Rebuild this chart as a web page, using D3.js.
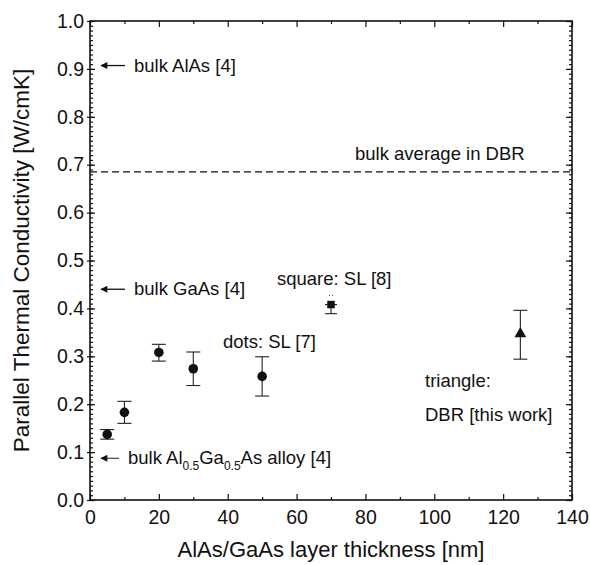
<!DOCTYPE html>
<html lang="en">
<head>
    <meta charset="UTF-8">
    <title>Parallel thermal conductivity</title>
    <style>
        body { margin: 0; background: #fff; }
        text { font-family: 'Liberation Sans', Arial, Helvetica, sans-serif; fill: #111; }
    </style>
</head>
<body>
    <svg id="svg" width="590" height="565"></svg>

    <script src="https://d3js.org/d3.v7.min.js"></script>
    <script>
        // data
        const dotThickness = [5, 10, 20, 30, 50]
        const dotValue = [0.137, 0.183, 0.308, 0.274, 0.258]
        const dotLow = [0.127, 0.160, 0.290, 0.239, 0.217]
        const dotHigh = [0.147, 0.206, 0.325, 0.309, 0.299]

        const squareThickness = [70]
        const squareValue = [0.408]
        const squareLow = [0.389]
        const squareHigh = [0.427]

        const triangleThickness = [125]
        const triangleValue = [0.347]
        const triangleLow = [0.294]
        const triangleHigh = [0.396]

        const dbrAverage = 0.685
        const bulkLabels = ['bulk AlAs [4]', 'bulk GaAs [4]', 'alloy']
        const bulkValues = [0.907, 0.440, 0.087]

        const xTicks = [0, 20, 40, 60, 80, 100, 120, 140]
        const xMinorTicks = [10, 30, 50, 70, 90, 110, 130]
        const yTicks = [0.0, 0.1, 0.2, 0.3, 0.4, 0.5, 0.6, 0.7, 0.8, 0.9, 1.0]

        // scales
        const m = { left: 90, right: 572, top: 21, bottom: 500 }
        const x = d3.scaleLinear().domain([0, 140]).range([m.left, m.right])
        const y = d3.scaleLinear().domain([0, 1]).range([m.bottom, m.top])
        const yMinor = d3.range(0, 101).map(d => d / 100)

        const svg = d3.select('#svg')

        // axes
        const fmtY = d3.format('.1f')
        svg.append('g')
            .attr('transform', `translate(0,${m.bottom})`)
            .call(d3.axisBottom(x).tickValues(xTicks).tickSizeInner(-6).tickSizeOuter(0).tickPadding(10))
            .call(g => g.selectAll('text').style('font-size', '19.5px'))
        svg.append('g')
            .attr('transform', `translate(0,${m.bottom})`)
            .call(d3.axisBottom(x).tickValues(xMinorTicks).tickSizeInner(-3).tickSizeOuter(0).tickFormat(''))
        svg.append('g')
            .attr('transform', `translate(0,${m.top})`)
            .call(d3.axisTop(x).tickValues(xTicks).tickSizeInner(-6).tickSizeOuter(0).tickFormat(''))
        svg.append('g')
            .attr('transform', `translate(0,${m.top})`)
            .call(d3.axisTop(x).tickValues(xMinorTicks).tickSizeInner(-3).tickSizeOuter(0).tickFormat(''))

        svg.append('g')
            .attr('transform', `translate(${m.left},0)`)
            .call(d3.axisLeft(y).tickValues(yTicks).tickSizeInner(3).tickSizeOuter(0).tickPadding(3).tickFormat(fmtY))
            .call(g => g.selectAll('text').style('font-size', '19.5px'))
        svg.append('g')
            .attr('transform', `translate(${m.left},0)`)
            .call(d3.axisLeft(y).tickValues(yTicks).tickSizeInner(-5).tickSizeOuter(0).tickFormat(''))
        svg.append('g')
            .attr('transform', `translate(${m.left},0)`)
            .call(d3.axisLeft(y).tickValues(yMinor).tickSizeInner(-3).tickSizeOuter(0).tickFormat(''))
        svg.append('g')
            .attr('transform', `translate(${m.right},0)`)
            .call(d3.axisRight(y).tickValues(yTicks).tickSizeInner(-6).tickSizeOuter(0).tickFormat(''))
        svg.append('g')
            .attr('transform', `translate(${m.right},0)`)
            .call(d3.axisRight(y).tickValues(yMinor).tickSizeInner(-3).tickSizeOuter(0).tickFormat(''))

        svg.selectAll('.domain').remove()
        svg.selectAll('.tick line').attr('stroke', '#111').attr('stroke-width', 1.2)

        // frame
        svg.append('rect')
            .attr('x', m.left).attr('y', m.top)
            .attr('width', m.right - m.left).attr('height', m.bottom - m.top)
            .attr('fill', 'none').attr('stroke', '#111').attr('stroke-width', 1.6)

        // axis titles
        svg.append('text')
            .attr('x', (m.left + m.right) / 2).attr('y', 557)
            .attr('text-anchor', 'middle')
            .style('font-size', '22px')
            .text('AlAs/GaAs layer thickness [nm]')
        svg.append('text')
            .attr('transform', `translate(29,${(m.top + m.bottom) / 2}) rotate(-90)`)
            .attr('text-anchor', 'middle')
            .style('font-size', '22.5px')
            .text('Parallel Thermal Conductivity [W/cmK]')

        // dashed bulk average
        svg.append('line')
            .attr('x1', m.left).attr('x2', m.right)
            .attr('y1', y(dbrAverage)).attr('y2', y(dbrAverage))
            .attr('stroke', '#111').attr('stroke-width', 1.3)
            .attr('stroke-dasharray', '7,4')
        svg.append('text')
            .attr('x', 355).attr('y', y(dbrAverage) - 12)
            .style('font-size', '18.5px')
            .text('bulk average in DBR')

        // bulk arrows
        svg.append('defs').append('marker')
            .attr('id', 'head')
            .attr('viewBox', '0 0 10 10')
            .attr('refX', 9).attr('refY', 5)
            .attr('markerWidth', 10).attr('markerHeight', 7)
            .attr('markerUnits', 'userSpaceOnUse')
            .attr('orient', 'auto')
            .append('path')
            .attr('d', 'M0,0 L10,5 L0,10 Z')
            .attr('fill', '#111')
        const arrowLen = [24, 24, 18]
        bulkValues.forEach((v, i) => {
            svg.append('line')
                .attr('x1', 101 + arrowLen[i]).attr('x2', 101)
                .attr('y1', y(v)).attr('y2', y(v))
                .attr('stroke', i === 2 ? '#555' : '#111').attr('stroke-width', 1.3)
                .attr('marker-end', 'url(#head)')
            const t = svg.append('text')
                .attr('x', 101 + arrowLen[i] + 9).attr('y', y(v) + 6)
                .style('font-size', '18.5px')
            if (i < 2) {
                t.text(bulkLabels[i])
            } else {
                t.append('tspan').text('bulk Al')
                t.append('tspan').attr('dy', 6).style('font-size', '12px').text('0.5')
                t.append('tspan').attr('dy', -6).text('Ga')
                t.append('tspan').attr('dy', 6).style('font-size', '12px').text('0.5')
                t.append('tspan').attr('dy', -6).text('As alloy [4]')
            }
        })

        // error bars
        function errorBars(xs, lo, hi, capHalf) {
            const g = svg.append('g').attr('stroke', '#222').attr('stroke-width', 1.1)
            xs.forEach((d, i) => {
                g.append('line').attr('x1', x(d)).attr('x2', x(d)).attr('y1', y(lo[i])).attr('y2', y(hi[i]))
                g.append('line').attr('x1', x(d) - capHalf).attr('x2', x(d) + capHalf).attr('y1', y(lo[i])).attr('y2', y(lo[i]))
                g.append('line').attr('x1', x(d) - capHalf).attr('x2', x(d) + capHalf).attr('y1', y(hi[i])).attr('y2', y(hi[i]))
            })
        }
        errorBars(dotThickness, dotLow, dotHigh, 7)
        errorBars(squareThickness, squareLow, [squareValue[0]], 6)
        errorBars(triangleThickness, triangleLow, triangleHigh, 7)
        // short dotted upper bar of the square
        svg.append('line')
            .attr('x1', x(squareThickness[0]) - 2).attr('x2', x(squareThickness[0]) + 2)
            .attr('y1', y(squareHigh[0])).attr('y2', y(squareHigh[0]))
            .attr('stroke', '#444').attr('stroke-dasharray', '1,2')

        // markers
        svg.append('g').selectAll('circle')
            .data(dotThickness)
            .join('circle')
            .attr('cx', d => x(d))
            .attr('cy', (d, i) => y(dotValue[i]))
            .attr('r', 4.8)
            .attr('fill', '#111')
        svg.append('g').selectAll('path')
            .data(squareThickness)
            .join('path')
            .attr('transform', (d, i) => `translate(${x(d)},${y(squareValue[i])})`)
            .attr('d', d3.symbol(d3.symbolSquare, 56))
            .attr('fill', '#111')
        svg.append('g').selectAll('path')
            .data(triangleThickness)
            .join('path')
            .attr('transform', (d, i) => `translate(${x(d)},${y(triangleValue[i])})`)
            .attr('d', d3.symbol(d3.symbolTriangle, 60))
            .attr('fill', '#111')

        // annotations
        const notes = [
            ['square: SL [8]', 277, 285],
            ['dots: SL [7]', 223, 348],
            ['triangle:', 425, 387],
            ['DBR [this work]', 425, 421]
        ]
        svg.append('g').selectAll('text')
            .data(notes)
            .join('text')
            .attr('x', d => d[1]).attr('y', d => d[2])
            .style('font-size', '18.5px')
            .text(d => d[0])
    </script>
</body>
</html>
